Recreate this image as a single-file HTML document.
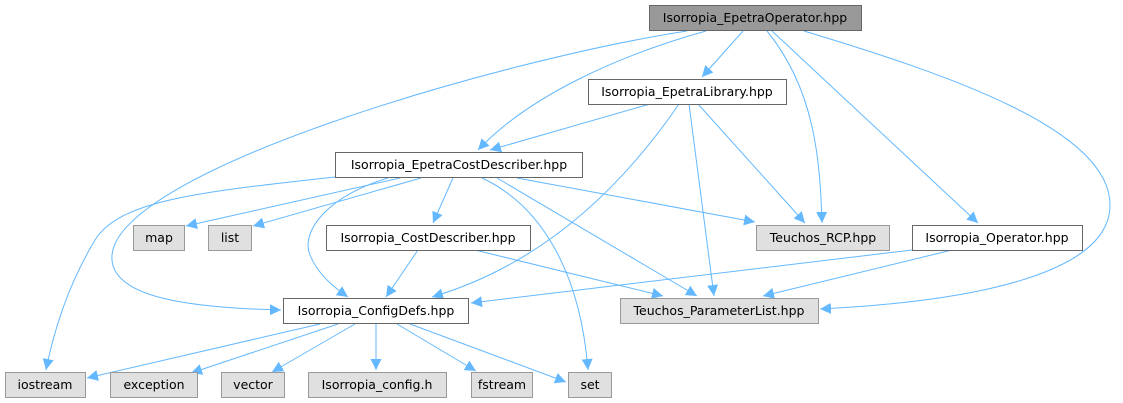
<!DOCTYPE html>
<html><head><meta charset="utf-8"><style>
html,body{margin:0;padding:0;background:#fff;width:1123px;height:403px;overflow:hidden}
text{font-family:"DejaVu Sans","Liberation Sans",sans-serif;font-size:12.5px;fill:#000}
</style></head><body>
<svg width="1123" height="403" viewBox="0 0 1123 403" xmlns="http://www.w3.org/2000/svg">
<defs><marker id="a" viewBox="0 0 10 10" refX="10" refY="5" markerWidth="11" markerHeight="11" markerUnits="userSpaceOnUse" orient="auto"><path d="M0,0 L10,5 L0,10 z" fill="#63b8ff"/></marker></defs>
<g fill="none" stroke="#63b8ff" stroke-width="1" marker-end="url(#a)">
<path d="M743,31 L702,77"/>
<path d="M706,31 C620,55 530,95 478,150"/>
<path d="M687,31 C500,60 120,170 112,255 C108,300 200,308 281,310"/>
<path d="M767,31 C815,90 820,160 822,223"/>
<path d="M772,31 L978,223"/>
<path d="M804,31 C950,75 1110,130 1110,205 C1110,290 900,305 820,309"/>
<path d="M650,104 L490,150"/>
<path d="M679,104 C620,190 540,265 432,297"/>
<path d="M689,104 L714,296"/>
<path d="M698,104 L805,223"/>
<path d="M335,177 C200,192 120,200 95,240 C65,290 52,340 46,370"/>
<path d="M400,178 L186,226"/>
<path d="M421,178 L253,226"/>
<path d="M388,178 C330,195 300,230 310,255 C318,275 335,288 348,297"/>
<path d="M453,178 L433,223"/>
<path d="M517,178 L755,222"/>
<path d="M482,178 C540,205 580,270 588,370"/>
<path d="M497,178 L697,296"/>
<path d="M418,250 L386,297"/>
<path d="M475,250 L663,296"/>
<path d="M912,250 L471,303"/>
<path d="M952,250 L763,296"/>
<path d="M320,324 L87,378"/>
<path d="M338,324 L191,373"/>
<path d="M355,324 L272,372"/>
<path d="M376,324 L376,370"/>
<path d="M397,324 L476,371"/>
<path d="M410,324 L566,382"/>
</g>
<g stroke-width="1">
<rect x="649.5" y="5.5" width="212" height="25" fill="#999" stroke="#666"/>
<rect x="588.5" y="79.5" width="198" height="25" fill="#fff" stroke="#666"/>
<rect x="335.5" y="152.5" width="247" height="25" fill="#fff" stroke="#666"/>
<rect x="133.5" y="225.5" width="51" height="25" fill="#e0e0e0" stroke="#999"/>
<rect x="208.5" y="225.5" width="43" height="25" fill="#e0e0e0" stroke="#999"/>
<rect x="326.5" y="225.5" width="204" height="25" fill="#fff" stroke="#666"/>
<rect x="756.5" y="225.5" width="133" height="25" fill="#e0e0e0" stroke="#999"/>
<rect x="912.5" y="225.5" width="170" height="25" fill="#fff" stroke="#666"/>
<rect x="283.5" y="298.5" width="185" height="25" fill="#fff" stroke="#666"/>
<rect x="620.5" y="298.5" width="198" height="25" fill="#e0e0e0" stroke="#999"/>
<rect x="5.5" y="372.5" width="80" height="25" fill="#e0e0e0" stroke="#999"/>
<rect x="110.5" y="372.5" width="87" height="25" fill="#e0e0e0" stroke="#999"/>
<rect x="221.5" y="372.5" width="63" height="25" fill="#e0e0e0" stroke="#999"/>
<rect x="308.5" y="372.5" width="138" height="25" fill="#e0e0e0" stroke="#999"/>
<rect x="471.5" y="372.5" width="61" height="25" fill="#e0e0e0" stroke="#999"/>
<rect x="568.5" y="372.5" width="43" height="25" fill="#e0e0e0" stroke="#999"/>
</g>
<g text-anchor="middle">
<text x="755" y="22">Isorropia_EpetraOperator.hpp</text>
<text x="687" y="96">Isorropia_EpetraLibrary.hpp</text>
<text x="459" y="169">Isorropia_EpetraCostDescriber.hpp</text>
<text x="159" y="242">map</text>
<text x="230" y="242">list</text>
<text x="428" y="242">Isorropia_CostDescriber.hpp</text>
<text x="823" y="242">Teuchos_RCP.hpp</text>
<text x="997" y="242">Isorropia_Operator.hpp</text>
<text x="376" y="315">Isorropia_ConfigDefs.hpp</text>
<text x="719" y="315">Teuchos_ParameterList.hpp</text>
<text x="45" y="389">iostream</text>
<text x="154" y="389">exception</text>
<text x="253" y="389">vector</text>
<text x="377" y="389">Isorropia_config.h</text>
<text x="502" y="389">fstream</text>
<text x="590" y="389">set</text>
</g>
</svg>
</body></html>
